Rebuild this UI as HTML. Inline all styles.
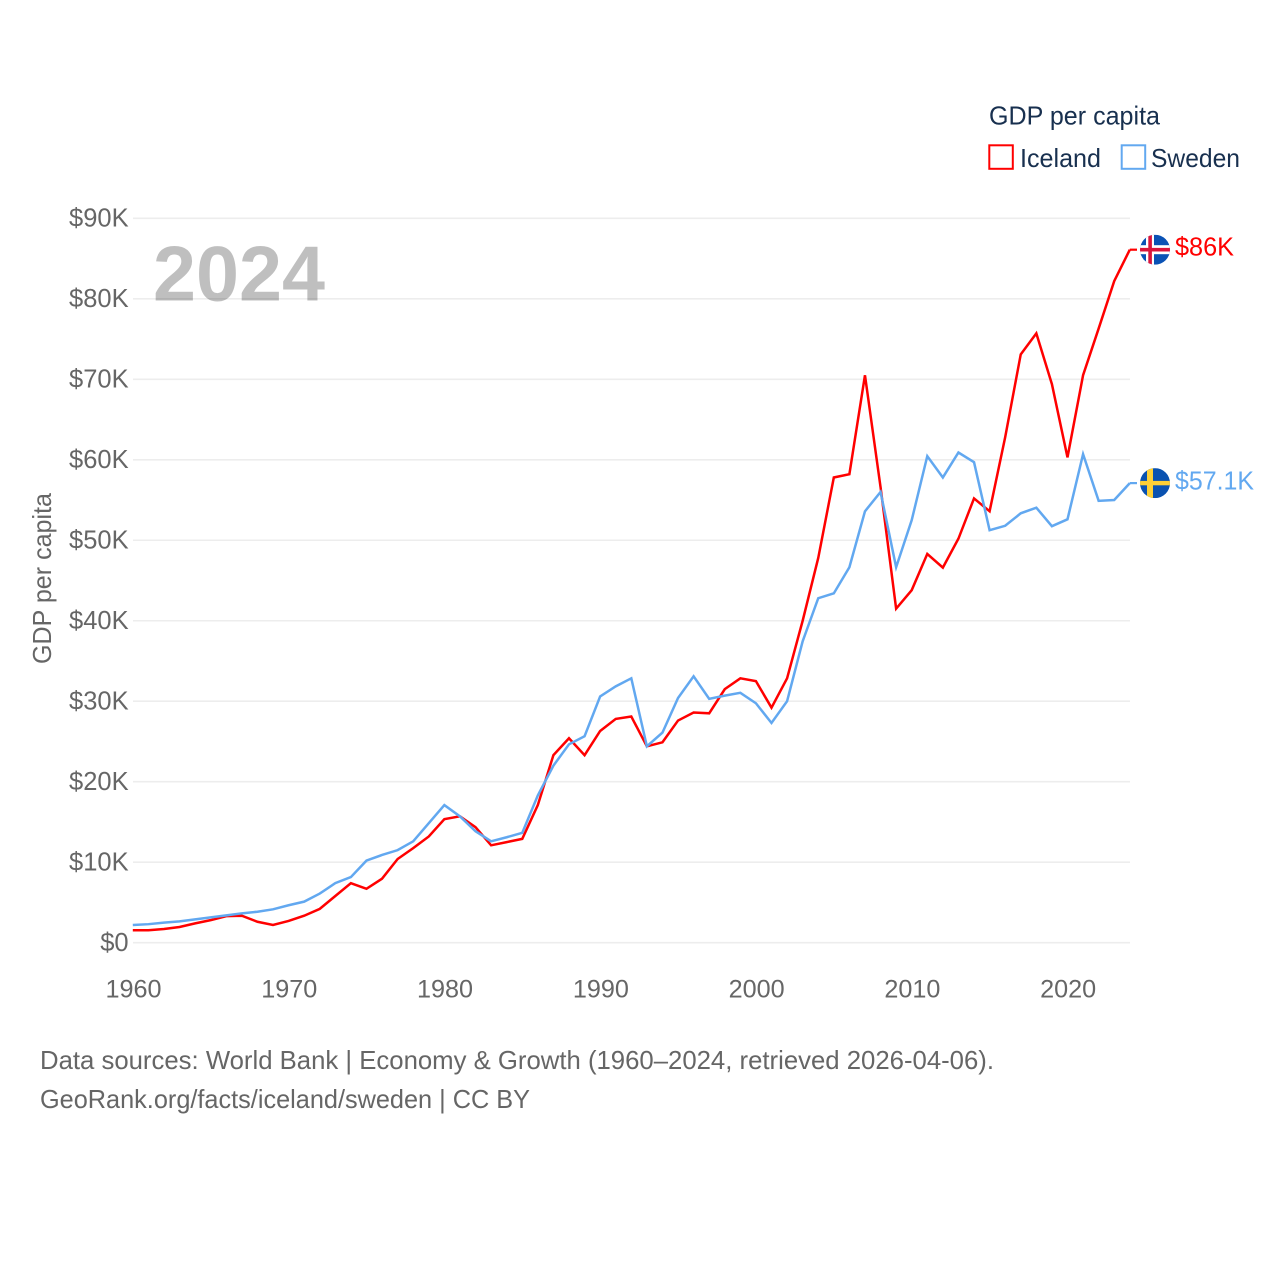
<!DOCTYPE html>
<html lang="en">
<head>
<meta charset="utf-8">
<title>GDP per capita: Iceland and Sweden</title>
<style>
  html, body { margin: 0; padding: 0; background: #fff; }
  svg { display: block; font-family: "Liberation Sans", sans-serif; }
</style>
</head>
<body>
<svg id="chart" xmlns="http://www.w3.org/2000/svg" width="1280" height="1280" viewBox="0 0 1280 1280">
  <defs>
    <clipPath id="flag-clip"><circle cx="0" cy="0" r="15"></circle></clipPath>
  </defs>
  <rect x="0" y="0" width="1280" height="1280" fill="#ffffff"></rect>
  <g id="grid"></g>
  <g id="y-ticks"></g>
  <g id="x-ticks"></g>
  <text x="153" y="300.5" font-size="78" font-weight="700" fill="#000000" fill-opacity="0.25" textLength="172" lengthAdjust="spacingAndGlyphs">2024</text>
  <g id="series"></g>
  <g id="ends"></g>
  <text transform="translate(51,578.5) rotate(-90)" text-anchor="middle" font-size="26" fill="#666666" textLength="171" lengthAdjust="spacingAndGlyphs">GDP per capita</text>
  <g>
    <text x="989" y="124.5" font-size="26" fill="#18304f" textLength="171" lengthAdjust="spacingAndGlyphs">GDP per capita</text>
    <g>
      <rect x="989.3" y="145.3" width="23.5" height="23.5" fill="#ffffff" stroke="#ff0000" stroke-width="2"></rect>
      <text x="1020" y="167" font-size="26" fill="#18304f" textLength="81" lengthAdjust="spacingAndGlyphs">Iceland</text>
    </g>
    <g>
      <rect x="1121.7" y="145.3" width="23.5" height="23.5" fill="#ffffff" stroke="#62a8f0" stroke-width="2"></rect>
      <text x="1151" y="167" font-size="26" fill="#18304f" textLength="89" lengthAdjust="spacingAndGlyphs">Sweden</text>
    </g>
  </g>
  <g>
    <text x="40" y="1069" font-size="26" fill="#666666" textLength="954" lengthAdjust="spacingAndGlyphs">Data sources: World Bank | Economy &amp; Growth (1960–2024, retrieved 2026-04-06).</text>
    <text x="40" y="1108" font-size="26" fill="#666666" textLength="490" lengthAdjust="spacingAndGlyphs">GeoRank.org/facts/iceland/sweden | CC BY</text>
  </g>
</svg>
<script>
const years = [1960,1961,1962,1963,1964,1965,1966,1967,1968,1969,1970,1971,1972,1973,1974,1975,1976,1977,1978,1979,1980,1981,1982,1983,1984,1985,1986,1987,1988,1989,1990,1991,1992,1993,1994,1995,1996,1997,1998,1999,2000,2001,2002,2003,2004,2005,2006,2007,2008,2009,2010,2011,2012,2013,2014,2015,2016,2017,2018,2019,2020,2021,2022,2023,2024];
const icelandValues = [1.55,1.55,1.7,1.95,2.4,2.8,3.3,3.35,2.6,2.2,2.7,3.35,4.2,5.8,7.4,6.7,7.95,10.4,11.75,13.2,15.35,15.7,14.35,12.1,12.5,12.9,17.1,23.3,25.4,23.3,26.3,27.8,28.1,24.4,24.9,27.6,28.6,28.5,31.5,32.85,32.5,29.2,32.85,40.0,47.8,57.8,58.2,70.5,56.6,41.5,43.8,48.3,46.6,50.2,55.2,53.6,62.8,73.1,75.7,69.4,60.3,70.5,76.3,82.2,86.1];
const swedenValues = [2.2,2.3,2.5,2.65,2.9,3.15,3.4,3.65,3.85,4.15,4.65,5.1,6.1,7.4,8.15,10.2,10.9,11.5,12.6,14.85,17.1,15.7,13.85,12.6,13.1,13.65,18.3,22.0,24.65,25.65,30.6,31.85,32.85,24.4,26.1,30.4,33.1,30.3,30.7,31.05,29.75,27.3,30.0,37.45,42.8,43.4,46.65,53.6,56.0,46.65,52.5,60.45,57.8,60.9,59.7,51.25,51.8,53.35,54.05,51.75,52.6,60.7,54.9,55.0,57.1];
const yTickValues = [0,10,20,30,40,50,60,70,80,90];
const yTickLabels = ["$0","$10K","$20K","$30K","$40K","$50K","$60K","$70K","$80K","$90K"];
const xTickValues = [1960,1970,1980,1990,2000,2010,2020];
const icelandEndLabel = "$86K";
const swedenEndLabel = "$57.1K";

const NS = "http://www.w3.org/2000/svg";
const xScale = function (year) { return 132.8 + (year - 1960) * (997 / 64); };
const yScale = function (value) { return 942.7 - value * (724.4 / 90); };

function make(tag, parent, attrs) {
  const el = document.createElementNS(NS, tag);
  for (const key in attrs) el.setAttribute(key, attrs[key]);
  parent.appendChild(el);
  return el;
}

const gridGroup = document.getElementById("grid");
const yTickGroup = document.getElementById("y-ticks");
yTickValues.forEach(function (v, i) {
  const line = make("line", gridGroup, { x1: 133, x2: 1130, y1: yScale(v), y2: yScale(v), stroke: "#ededed", "stroke-width": 1.6 });
  
  
  const label = make("text", yTickGroup, { x: 128.6, y: yScale(v) + 8.2, "text-anchor": "end", "font-size": 25.5, fill: "#666666" });
  
  
  label.textContent = yTickLabels[i];
});

const xTickGroup = document.getElementById("x-ticks");
xTickValues.forEach(function (year) {
  const label = make("text", xTickGroup, { x: xScale(year) + 0.7, y: 997.5, "text-anchor": "middle", "font-size": 25.2, fill: "#666666" });
  
  
  label.textContent = String(year);
});

function linePath(values) {
  return values.map(function (v, i) {
    return (i ? "L" : "M") + xScale(years[i]).toFixed(2) + " " + yScale(v).toFixed(2);
  }).join("");
}

const seriesGroup = document.getElementById("series");
const icelandLine = make("path", seriesGroup, { d: linePath(icelandValues), fill: "none", stroke: "#ff0000", "stroke-width": 2.5, "stroke-linejoin": "miter" });


const swedenLine = make("path", seriesGroup, { d: linePath(swedenValues), fill: "none", stroke: "#62a8f0", "stroke-width": 2.5, "stroke-linejoin": "miter" });



const endsGroup = document.getElementById("ends");
function endY(values) { return yScale(values[values.length - 1]); }

const icelandConnector = make("line", endsGroup, { x1: 1129.8, x2: 1137, y1: endY(icelandValues), y2: endY(icelandValues), stroke: "#ff0000", "stroke-width": 2.2 });


const swedenConnector = make("line", endsGroup, { x1: 1129.8, x2: 1137, y1: endY(swedenValues), y2: endY(swedenValues), stroke: "#62a8f0", "stroke-width": 2.2 });



const icelandFlag = make("g", endsGroup, { transform: "translate(1155," + endY(icelandValues) + ")", "clip-path": "url(#flag-clip)" });


make("rect", icelandFlag, { x: -15, y: -15, width: 30, height: 30, fill: "#0a52b5" });
make("rect", icelandFlag, { x: -9, y: -15, width: 8, height: 30, fill: "#ffffff" });
make("rect", icelandFlag, { x: -15, y: -4.5, width: 30, height: 9, fill: "#ffffff" });
make("rect", icelandFlag, { x: -6.7, y: -15, width: 3.6, height: 30, fill: "#d9143c" });
make("rect", icelandFlag, { x: -15, y: -1.8, width: 30, height: 3.6, fill: "#d9143c" });

const swedenFlag = make("g", endsGroup, { transform: "translate(1155," + endY(swedenValues) + ")", "clip-path": "url(#flag-clip)" });


make("rect", swedenFlag, { x: -15, y: -15, width: 30, height: 30, fill: "#0a52b0" });
make("rect", swedenFlag, { x: -8, y: -15, width: 6, height: 30, fill: "#fdd037" });
make("rect", swedenFlag, { x: -15, y: -2.2, width: 30, height: 4.4, fill: "#fdd037" });

const icelandLabel = make("text", endsGroup, { x: 1175, y: endY(icelandValues) + 6, "font-size": 26, fill: "#ff0000", textLength: 59, lengthAdjust: "spacingAndGlyphs" });


icelandLabel.textContent = icelandEndLabel;
const swedenLabel = make("text", endsGroup, { x: 1175, y: endY(swedenValues) + 6.5, "font-size": 26, fill: "#62a8f0", textLength: 79, lengthAdjust: "spacingAndGlyphs" });


swedenLabel.textContent = swedenEndLabel;
</script>
</body>
</html>
